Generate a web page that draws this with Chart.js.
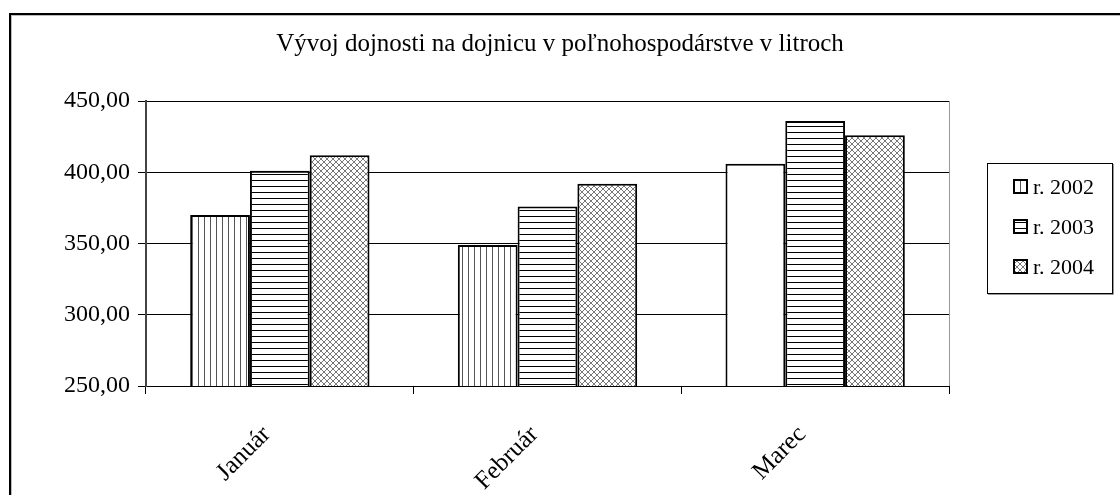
<!DOCTYPE html>
<html>
<head>
<meta charset="utf-8">
<script src="https://cdn.jsdelivr.net/npm/chart.js@4.4.1/dist/chart.umd.min.js"></script>
<style>
  body { margin: 0; background: #fff; }
  canvas { display: block; }
</style>
</head>
<body>
<canvas id="milkChart" width="1120" height="495"></canvas>
<script>
const categories = ['Január', 'Február', 'Marec'];
const seriesLabels = ['r. 2002', 'r. 2003', 'r. 2004'];
const values2002 = [370, 349, 406];
const values2003 = [401, 376, 436];
const values2004 = [412, 392, 426];
const yMin = 250;
const yMax = 450;
const yStep = 50;
const chartTitle = 'Vývoj dojnosti na dojnicu v poľnohospodárstve v litroch';

const ctx = document.getElementById('milkChart').getContext('2d');
const FONT = 'Liberation Serif, Times New Roman, serif';

function makePattern(kind) {
    const c = document.createElement('canvas');
    c.width = 6;
    c.height = 6;
    const p = c.getContext('2d');
    p.fillStyle = '#fff';
    p.fillRect(0, 0, 6, 6);
    if (kind === 'vertical') {
        p.fillStyle = '#555';
        p.fillRect(0, 0, 1, 6);
    } else if (kind === 'horizontal') {
        p.fillStyle = '#000';
        p.fillRect(0, 0, 6, 1);
    } else {
        p.fillStyle = '#777';
        for (let i = 0; i < 6; i++) {
            p.fillRect(i, i, 1, 1);
            p.fillRect(5 - i, i, 1, 1);
        }
    }
    return ctx.createPattern(c, 'repeat');
}

const vertical = makePattern('vertical');
const horizontal = makePattern('horizontal');
const dotted = makePattern('dots');

// Marec 2002 is plain white in the original
const fills2002 = [vertical, vertical, '#fff'];

const frame = {
    id: 'frame',
    beforeDraw(chart) {
        const c = chart.ctx;
        c.save();
        c.fillStyle = '#fff';
        c.fillRect(0, 0, chart.width, chart.height);
        c.strokeStyle = '#bbb';
        c.lineWidth = 1;
        c.strokeRect(11.5, 15.5, 1300, 700);
        c.strokeStyle = '#000';
        c.lineWidth = 2;
        c.strokeRect(10, 14, 1300, 700);

        // title, centred on the whole figure
        c.fillStyle = '#000';
        c.font = '25px ' + FONT;
        c.textAlign = 'center';
        c.textBaseline = 'middle';
        c.fillText(chartTitle, 560, 44);
        c.restore();
    },
    afterDraw(chart) {
        const c = chart.ctx;
        const a = chart.chartArea;
        c.save();
        c.strokeStyle = '#999';
        c.lineWidth = 1;
        c.beginPath();
        c.moveTo(a.right + 0.5, a.top);
        c.lineTo(a.right + 0.5, a.bottom);
        c.stroke();

        // legend box
        const lx = 987, ly = 163, lw = 125, lh = 130;
        c.strokeStyle = '#999';
        c.beginPath();
        c.moveTo(lx + lw + 1.5, ly + 1);
        c.lineTo(lx + lw + 1.5, ly + lh + 1.5);
        c.lineTo(lx + 1, ly + lh + 1.5);
        c.stroke();
        c.strokeStyle = '#000';
        c.strokeRect(lx + 0.5, ly + 0.5, lw, lh);

        const fills = [vertical, horizontal, dotted];
        c.font = '22px ' + FONT;
        c.textBaseline = 'middle';
        chart.data.datasets.forEach((ds, i) => {
            const cy = 187 + i * 40;
            c.fillStyle = fills[i];
            c.fillRect(1014, cy - 7, 13, 13);
            c.strokeStyle = '#000';
            c.lineWidth = 2;
            c.strokeRect(1014, cy - 7, 13, 13);
            c.fillStyle = '#000';
            c.fillText(ds.label, 1033, cy + 1);
        });
        c.restore();
    }
};

new Chart(ctx, {
    type: 'bar',
    data: {
        labels: categories,
        datasets: [
            { label: seriesLabels[0], data: values2002, backgroundColor: fills2002 },
            { label: seriesLabels[1], data: values2003, backgroundColor: horizontal },
            { label: seriesLabels[2], data: values2004, backgroundColor: dotted }
        ]
    },
    options: {
        responsive: false,
        animation: false,
        datasets: {
            bar: {
                borderColor: '#000',
                borderWidth: 2,
                borderSkipped: false,
                categoryPercentage: 0.67,
                barPercentage: 1
            }
        },
        layout: {
            padding: { left: 0, right: 171, top: 101, bottom: 0 }
        },
        plugins: {
            legend: { display: false },
            tooltip: { enabled: false },
            title: { display: false }
        },
        scales: {
            x: {
                offset: true,
                grid: {
                    offset: true,
                    drawOnChartArea: false,
                    color: '#000',
                    tickLength: 8
                },
                border: { color: '#000', width: 1 },
                ticks: {
                    color: '#000',
                    minRotation: 45,
                    maxRotation: 45,
                    padding: 26,
                    labelOffset: -13,
                    font: { family: FONT, size: 25 }
                },
                afterFit(scale) { scale.height = 109; }
            },
            y: {
                min: yMin,
                max: yMax,
                grid: { color: '#000', tickLength: 8 },
                border: { color: '#444', width: 2 },
                ticks: {
                    stepSize: yStep,
                    color: '#000',
                    padding: 8,
                    font: { family: FONT, size: 24 },
                    callback: (v) => v.toFixed(2).replace('.', ',')
                },
                afterFit(scale) { scale.width = 146; }
            }
        }
    },
    plugins: [frame]
});
</script>
</body>
</html>
